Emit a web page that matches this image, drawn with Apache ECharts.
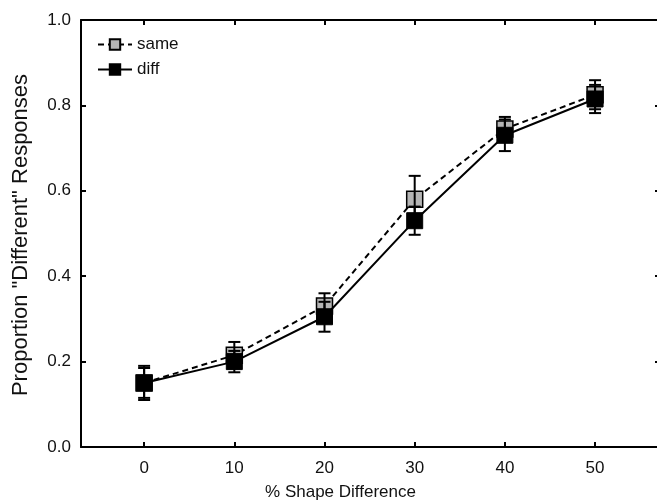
<!DOCTYPE html>
<html>
<head>
<meta charset="utf-8">
<script src="https://cdn.jsdelivr.net/npm/echarts@6/dist/echarts.min.js"></script>
<style>
  html, body { margin: 0; padding: 0; background: #fff; }
  #chart { width: 657px; height: 504px; }
</style>
</head>
<body>
<div id="chart"></div>
<script>
const shapeDiff = [0, 10, 20, 30, 40, 50];
const sameMean = [0.15, 0.215, 0.33, 0.58, 0.745, 0.825];
const sameErr = [0.04, 0.031, 0.03, 0.055, 0.028, 0.034];
const diffMean = [0.15, 0.20, 0.305, 0.53, 0.73, 0.815];
const diffErr = [0.035, 0.025, 0.035, 0.033, 0.037, 0.033];

const font = 'Liberation Sans, Arial, sans-serif';

// error bar: vertical line with caps
function errBars(means, errs) {
  return means.map((m, i) => [shapeDiff[i], m - errs[i], m + errs[i]]);
}

function renderErr(params, api) {
  const x = api.value(0);
  const lo = api.coord([x, api.value(1)]);
  const hi = api.coord([x, api.value(2)]);
  const cap = 6;
  const style = { stroke: '#000', lineWidth: 2 };
  return {
    type: 'group',
    children: [
      { type: 'line', shape: { x1: lo[0], y1: lo[1], x2: hi[0], y2: hi[1] }, style },
      { type: 'line', shape: { x1: lo[0] - cap, y1: lo[1], x2: lo[0] + cap, y2: lo[1] }, style },
      { type: 'line', shape: { x1: hi[0] - cap, y1: hi[1], x2: hi[0] + cap, y2: hi[1] }, style }
    ]
  };
}

const chart = echarts.init(document.getElementById('chart'));

const xCommon = {
  type: 'value',
  min: -7,
  max: 57.2,
  splitLine: { show: false },
  axisLine: { show: true, onZero: false, lineStyle: { color: '#000', width: 2 } },
  axisTick: { show: true, inside: true, length: 5, customValues: shapeDiff, lineStyle: { color: '#000', width: 2 } }
};
const yCommon = {
  type: 'value',
  min: 0,
  max: 1,
  interval: 0.2,
  splitLine: { show: false },
  axisLine: { show: true, onZero: false, lineStyle: { color: '#000', width: 2 } },
  axisTick: { show: true, inside: true, length: 5, lineStyle: { color: '#000', width: 2 } }
};

chart.setOption({
  animation: false,
  backgroundColor: '#fff',
  textStyle: { fontFamily: font },
  grid: { left: 81, right: -3, top: 20, bottom: 57, outerBoundsMode: 'none' },
  legend: {
    orient: 'vertical',
    left: 92,
    top: 31,
    itemWidth: 34,
    itemHeight: 13,
    itemGap: 8,
    data: ['same', 'diff'],
    textStyle: { fontFamily: font, fontSize: 17, color: '#111' }
  },
  graphic: [{
    type: 'text',
    x: 21,
    y: 235,
    rotation: Math.PI / 2,
    style: {
      text: 'Proportion "Different" Responses',
      font: '22px Liberation Sans, Arial, sans-serif',
      fill: '#111',
      align: 'center',
      verticalAlign: 'middle'
    }
  }],
  xAxis: [
    Object.assign({}, xCommon, {
      position: 'bottom',
      name: '% Shape Difference',
      nameLocation: 'middle',
      nameGap: 37,
      nameTextStyle: { fontFamily: font, fontSize: 17, color: '#111', padding: [0, 60, 0, 0] },
      axisLabel: { customValues: shapeDiff, margin: 13, fontFamily: font, fontSize: 17, color: '#111' }
    }),
    Object.assign({}, xCommon, { position: 'top', axisLabel: { show: false } })
  ],
  yAxis: [
    Object.assign({}, yCommon, {
      position: 'left',
      axisLabel: {
        margin: 10, fontFamily: font, fontSize: 17, color: '#111',
        formatter: v => v.toFixed(1)
      }
    }),
    Object.assign({}, yCommon, {
      position: 'right',
      axisLine: { show: false, onZero: false },
      axisLabel: { show: false }
    })
  ],
  series: [
    {
      name: 'same',
      type: 'line',
      data: shapeDiff.map((x, i) => [x, sameMean[i]]),
      symbol: 'rect',
      symbolSize: 16,
      lineStyle: { color: '#000', width: 2, type: [6, 4] },
      itemStyle: { color: '#b5b5b5', borderColor: '#000', borderWidth: 1.5 },
      z: 2
    },
    {
      name: 'diff',
      type: 'line',
      data: shapeDiff.map((x, i) => [x, diffMean[i]]),
      symbol: 'rect',
      symbolSize: 16,
      lineStyle: { color: '#000', width: 2 },
      itemStyle: { color: '#000', borderColor: '#000', borderWidth: 1 },
      z: 3
    },
    {
      type: 'custom',
      renderItem: renderErr,
      data: errBars(sameMean, sameErr),
      z: 4,
      silent: true
    },
    {
      type: 'custom',
      renderItem: renderErr,
      data: errBars(diffMean, diffErr),
      z: 4,
      silent: true
    }
  ]
});
</script>
</body>
</html>
